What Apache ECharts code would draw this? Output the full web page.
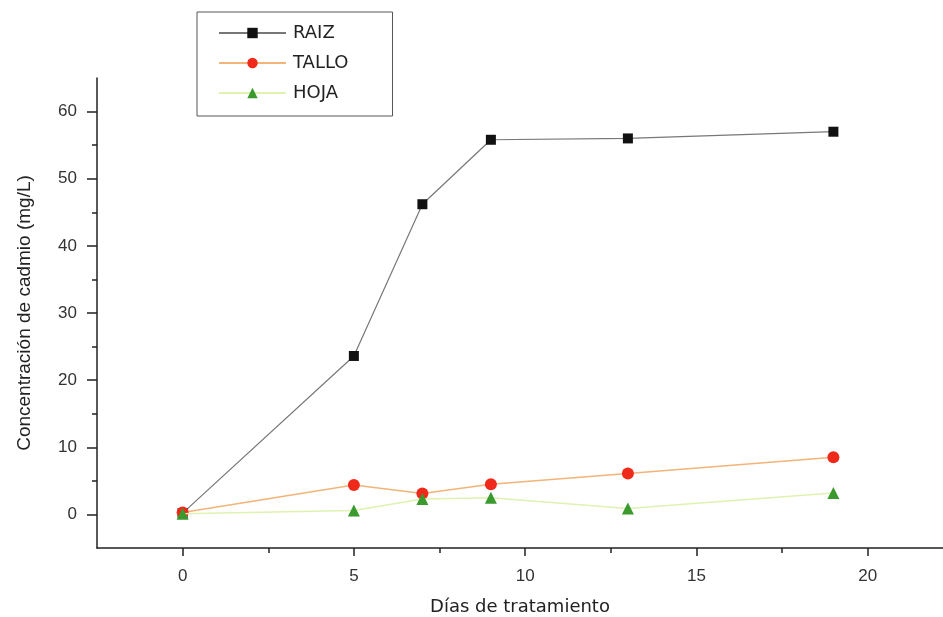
<!DOCTYPE html>
<html>
<head>
<meta charset="utf-8">
<script src="https://cdn.jsdelivr.net/npm/echarts@6/dist/echarts.min.js"></script>
<style>html,body{margin:0;padding:0;background:#fff;}#c{width:943px;height:617px;}</style>
</head>
<body>
<div id="c"></div>
<script>
const days = [0, 5, 7, 9, 13, 19];
const raiz = [0.2, 23.6, 46.2, 55.8, 56.0, 57.0];
const tallo = [0.3, 4.4, 3.1, 4.5, 6.1, 8.5];
const hoja = [0.1, 0.6, 2.3, 2.5, 0.9, 3.2];
const yMajorTicks = [0, 10, 20, 30, 40, 50, 60];
const yMinorTicks = [5, 15, 25, 35, 45, 55];
const xMajorTicks = [0, 5, 10, 15, 20];
const xMinorTicks = [2.5, 7.5, 12.5, 17.5];
const seriesNames = ['RAIZ', 'TALLO', 'HOJA'];
const xTitle = 'Días de tratamiento';
const yTitle = 'Concentración de cadmio (mg/L)';

const pair = (xs, ys) => xs.map((x, i) => [x, ys[i]]);
const font = '"Liberation Sans", Arial, sans-serif';
const wide = '"DejaVu Sans", "Liberation Sans", sans-serif';
const chart = echarts.init(document.getElementById('c'));
const xBase = {
  type: 'value', min: -2.5, max: 22.2, interval: 2.5,
  splitLine: { show: false },
  axisLine: { onZero: false, lineStyle: { color: '#222', width: 1.5 } }
};
const yBase = {
  type: 'value', min: -5, max: 65, interval: 5,
  splitLine: { show: false },
  axisLine: { onZero: false, lineStyle: { color: '#222', width: 1.5 } }
};
chart.setOption({
  animation: false,
  backgroundColor: '#fff',
  grid: { left: 97, right: 0, top: 78, bottom: 69, containLabel: false, outerBoundsMode: 'none' },
  legend: {
    orient: 'vertical', left: 197, top: 12,
    data: seriesNames,
    padding: [12, 44, 14, 21],
    borderColor: '#555', borderWidth: 1,
    itemWidth: 67, itemHeight: 13, itemGap: 12,
    textStyle: { fontFamily: wide, fontSize: 18, color: '#222', lineHeight: 18, padding: [0, 0, 0, 2] }
  },
  xAxis: [
    Object.assign({}, xBase, {
      name: xTitle, nameLocation: 'middle', nameGap: 50,
      nameTextStyle: { fontFamily: wide, fontSize: 18, color: '#222' },
      axisTick: { show: true, length: 8, customValues: xMajorTicks, lineStyle: { color: '#222', width: 1.5 } },
      axisLabel: { customValues: xMajorTicks, margin: 20, fontFamily: font, fontSize: 17, color: '#333' }
    }),
    Object.assign({}, xBase, {
      position: 'bottom',
      axisLine: { show: false, onZero: false },
      axisTick: { show: true, length: 5, customValues: xMinorTicks, lineStyle: { color: '#222', width: 1.5 } },
      axisLabel: { show: false }
    })
  ],
  yAxis: [
    Object.assign({}, yBase, {
      name: yTitle, nameLocation: 'middle', nameGap: 63, nameRotate: 90,
      nameTextStyle: { fontFamily: font, fontSize: 19, color: '#222' },
      axisTick: { show: true, length: 10, customValues: yMajorTicks, lineStyle: { color: '#222', width: 1.5 } },
      axisLabel: { customValues: yMajorTicks, margin: 20, fontFamily: font, fontSize: 17, color: '#333' }
    }),
    Object.assign({}, yBase, {
      position: 'left',
      axisLine: { show: false, onZero: false },
      axisTick: { show: true, length: 5, customValues: yMinorTicks, lineStyle: { color: '#222', width: 1.5 } },
      axisLabel: { show: false }
    })
  ],
  series: [
    {
      name: seriesNames[0], type: 'line', data: pair(days, raiz),
      symbol: 'rect', symbolSize: 10, z: 3,
      itemStyle: { color: '#111' },
      lineStyle: { color: '#777', width: 1.2 }
    },
    {
      name: seriesNames[1], type: 'line', data: pair(days, tallo),
      symbol: 'circle', symbolSize: 12, z: 4,
      itemStyle: { color: '#f02a1a' },
      lineStyle: { color: '#f2b479', width: 1.5 }
    },
    {
      name: seriesNames[2], type: 'line', data: pair(days, hoja),
      symbol: 'triangle', symbolSize: 12, z: 5,
      itemStyle: { color: '#3a9a2e' },
      lineStyle: { color: '#dff2b0', width: 1.5 }
    }
  ]
});
</script>
</body>
</html>
